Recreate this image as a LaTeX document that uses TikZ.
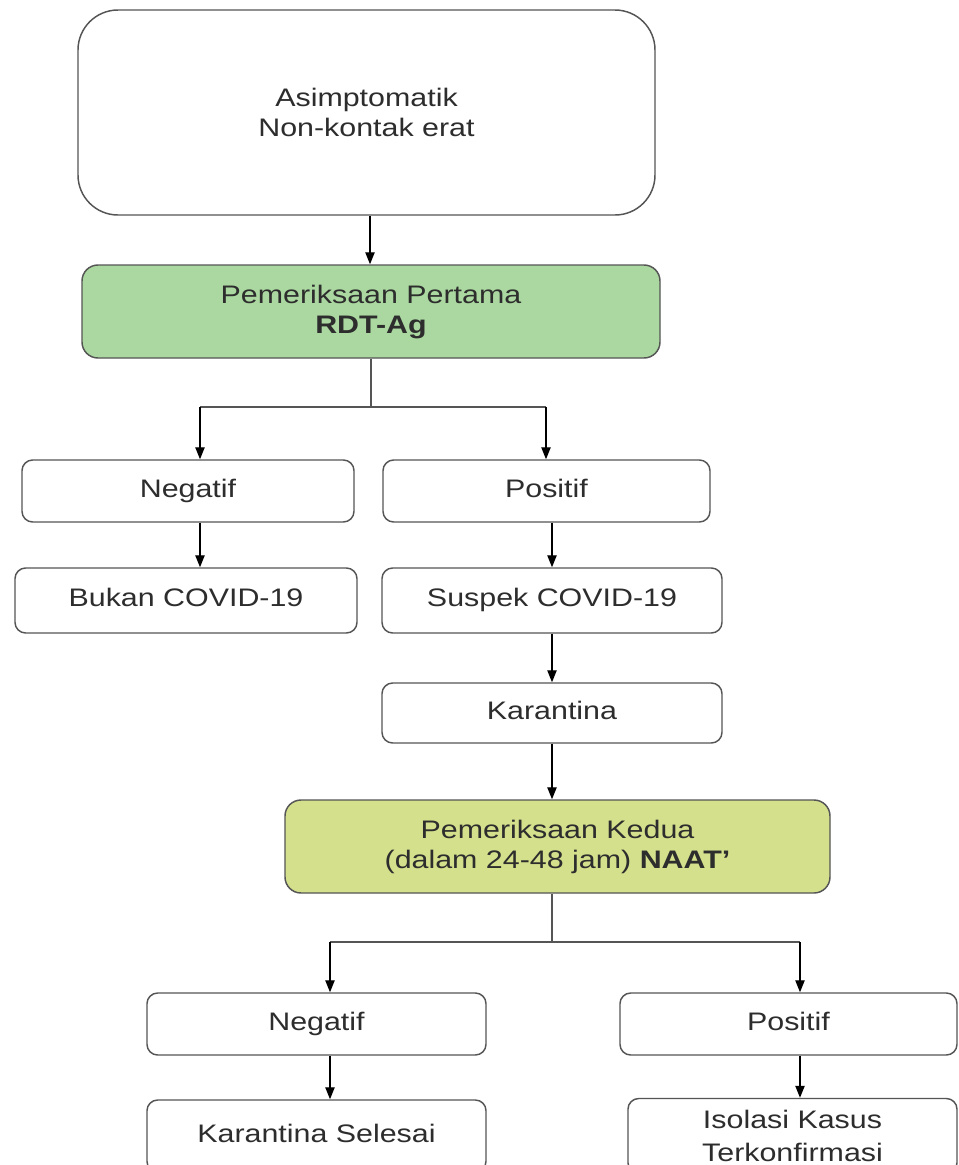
\documentclass[tikz,border=0pt]{standalone}
\usepackage{fontspec}
\setmainfont[FakeStretch=1.2]{Liberation Sans}
\usetikzlibrary{arrows.meta}
\definecolor{boxline}{RGB}{85,85,85}
\definecolor{txt}{RGB}{45,45,45}
\definecolor{greenfill}{RGB}{170,216,160}
\definecolor{limefill}{RGB}{212,224,140}
\tikzset{
  box/.style={draw=boxline, line width=1.1pt, fill=white, rounded corners=8pt,
    inner sep=0pt, align=center, text=txt,
    font=\fontsize{19pt}{22.5pt}\selectfont},
  oneline/.style={box, text height=13.6pt, text depth=4pt},
  arr/.style={draw=black, line width=1pt, -{Triangle[length=9pt,width=7pt]}},
  link/.style={draw=boxline, line width=0.8pt},
}
\begin{document}
\begin{tikzpicture}[x=0.75pt,y=-0.75pt]
\clip (0,0) rectangle (959,1165);
\fill[white] (0,0) rectangle (959,1165);

% boxes
\node[box, rounded corners=30pt, minimum width=432.75pt, minimum height=153.75pt]
  (start) at (366.5,112.5) {Asimptomatik\\Non-kontak erat};
\node[box, fill=greenfill, rounded corners=12pt, minimum width=433.5pt, minimum height=69.75pt]
  (test1) at (371,311.5) {Pemeriksaan Pertama\\\textbf{RDT-Ag}};
\node[oneline, minimum width=249pt, minimum height=46.5pt] (neg1) at (188,491) {Negatif};
\node[oneline, minimum width=245.25pt, minimum height=46.5pt] (pos1) at (546.5,491) {Positif};
\node[oneline, minimum width=256.5pt, minimum height=48.75pt] (bukan) at (186,600.5) {Bukan COVID-19};
\node[oneline, minimum width=255pt, minimum height=48.75pt] (suspek) at (552,600.5) {Suspek COVID-19};
\node[oneline, minimum width=255pt, minimum height=45pt] (kar) at (552,713) {Karantina};
\node[box, fill=limefill, rounded corners=12pt, minimum width=408.75pt, minimum height=69.75pt]
  (test2) at (557.5,846.5) {Pemeriksaan Kedua\\(dalam 24-48 jam) \textbf{NAAT'}};
\node[oneline, minimum width=254.25pt, minimum height=46.5pt] (neg2) at (316.5,1024) {Negatif};
\node[oneline, minimum width=252.75pt, minimum height=46.5pt] (pos2) at (788.5,1024) {Positif};
\node[oneline, minimum width=254.25pt, minimum height=54pt] (selesai) at (316.5,1136) {Karantina Selesai};
\node[box, minimum width=246.75pt, minimum height=56.25pt, font=\fontsize{19pt}{25pt}\selectfont]
  (isolasi) at (792.5,1136) {Isolasi Kasus\\Terkonfirmasi};

% branch points
\coordinate (b1) at (371,407);
\coordinate (b1l) at (200,407);
\coordinate (b1r) at (546,407);
\coordinate (b2) at (552,942);
\coordinate (b2l) at (330,942);
\coordinate (b2r) at (800,942);

% connectors
\draw[arr] (start.south -| 370,0) -- (test1.north -| 370,0);
\draw[link] (test1.south) -- (b1);
\draw[link] (b1l) -- (b1r);
\draw[arr] (b1l) -- (b1l |- neg1.north);
\draw[arr] (b1r) -- (b1r |- pos1.north);
\draw[arr] (neg1.south -| b1l) -- (bukan.north -| b1l);
\draw[arr] (pos1.south -| suspek.north) -- (suspek.north);
\draw[arr] (suspek.south) -- (kar.north);
\draw[arr] (kar.south) -- (kar.south |- test2.north);
\draw[link] (test2.south -| b2) -- (b2);
\draw[link] (b2l) -- (b2r);
\draw[arr] (b2l) -- (b2l |- neg2.north);
\draw[arr] (b2r) -- (b2r |- pos2.north);
\draw[arr] (neg2.south -| b2l) -- (selesai.north -| b2l);
\draw[arr] (pos2.south -| b2r) -- (isolasi.north -| b2r);
\end{tikzpicture}
\end{document}
